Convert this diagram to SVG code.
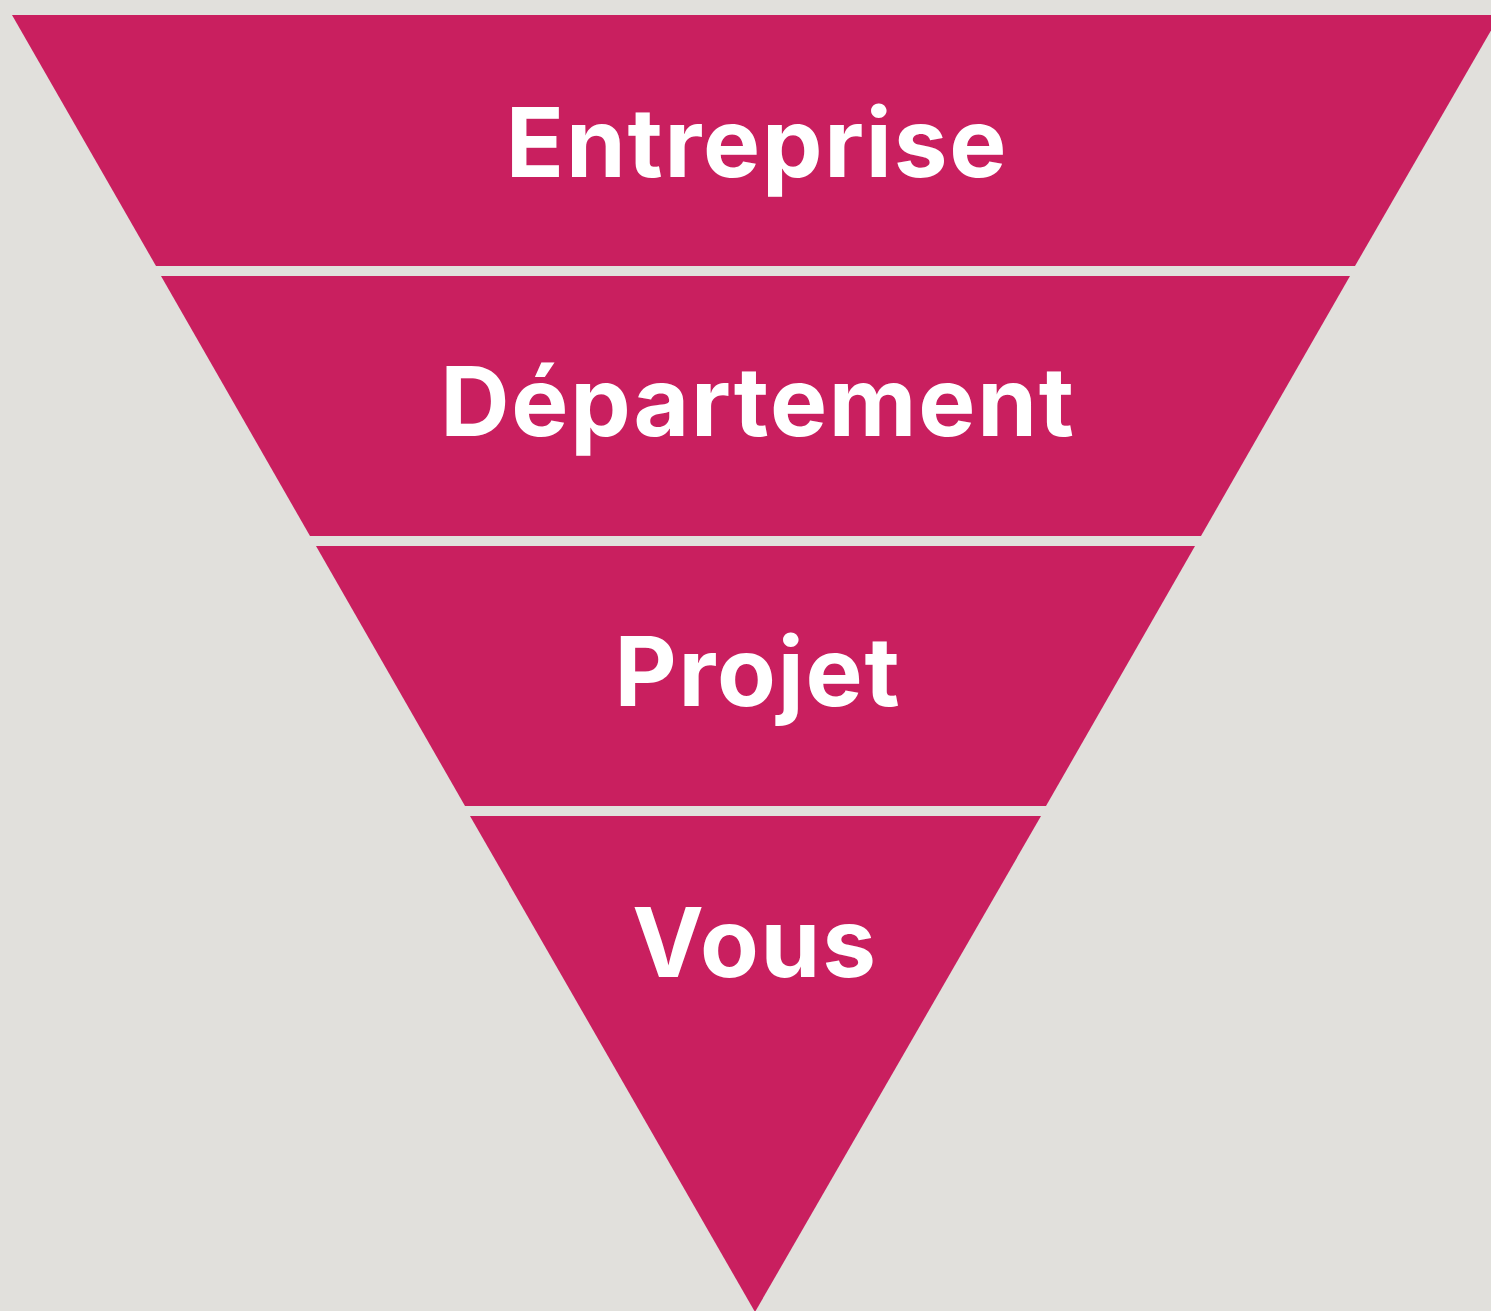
<svg xmlns="http://www.w3.org/2000/svg" width="1491" height="1311" viewBox="0 0 1491 1311">
<style>
.band{fill:#c91f5f}
.lbl{font-family:Inter,"Liberation Sans",sans-serif;font-weight:700;font-size:96px;letter-spacing:1.8px;fill:#ffffff;text-anchor:middle}
</style>
<rect x="0" y="0" width="1491" height="1311" fill="#e1e0dc"/>
<g id="node-entreprise">
<polygon class="band" points="12,15 1500,15 1355,266 156,266"/>
<text class="lbl" x="757" y="177">Entreprise</text>
</g>
<g id="node-departement">
<polygon class="band" points="161,276 1350,276 1201,536 310,536"/>
<text class="lbl" x="758" y="436">Département</text>
</g>
<g id="node-projet">
<polygon class="band" points="316,546 1195,546 1046,806 465,806"/>
<text class="lbl" x="758" y="706">Projet</text>
</g>
<g id="node-vous">
<polygon class="band" points="470,816 1041,816 755,1312"/>
<text class="lbl" x="755" y="977" letter-spacing="3">Vous</text>
</g>
<g id="connectors"></g>
</svg>
